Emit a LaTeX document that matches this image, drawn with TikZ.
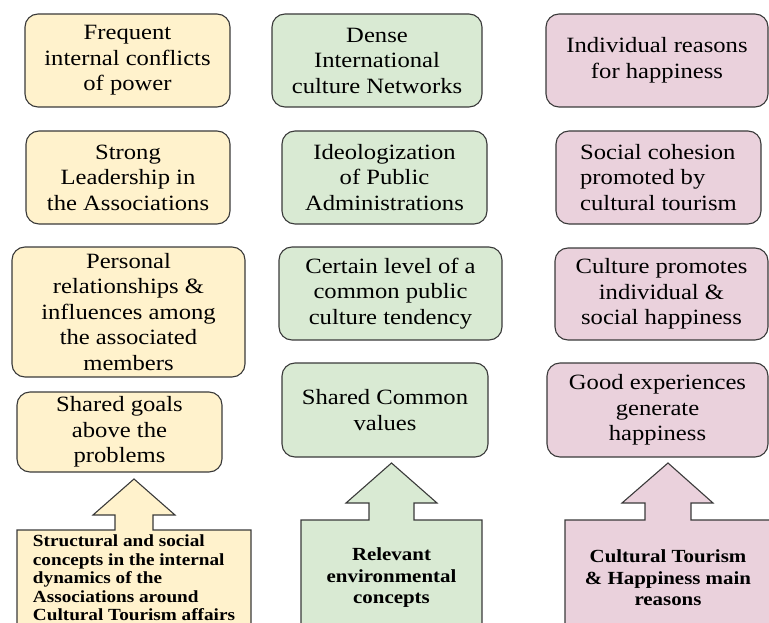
\documentclass[tikz,border=0pt]{standalone}
\usepackage{fontspec}
\setmainfont{Liberation Serif}[FakeStretch=1.13]
\usepackage{xcolor}
\definecolor{assocc}{HTML}{FFF2CC}
\definecolor{envc}{HTML}{D9EAD3}
\definecolor{happyc}{HTML}{EAD1DC}
\definecolor{edgec}{HTML}{3A3A3A}
\tikzset{
  concept/.style={draw=edgec, line width=1.1pt, rounded corners=13pt, align=center, inner sep=2pt, font=\fontsize{21.8}{25.5}\selectfont},
  assoc/.style={concept, fill=assocc},
  env/.style={concept, fill=envc},
  happy/.style={concept, fill=happyc},
  bigarrow/.style={draw=edgec, line width=1.1pt, line join=miter},
  arrowtext/.style={align=center, inner sep=0pt, font=\bfseries\fontsize{18.5}{21.5}\selectfont},
}

\begin{document}
\begin{tikzpicture}[x=1pt, y=-1pt]
\useasboundingbox (0,0) rectangle (769,623);
\node[assoc, minimum width=205pt, minimum height=93pt] (conflicts) at (127.5,60.5) {Frequent\\internal conflicts\\of power};
\node[assoc, minimum width=204pt, minimum height=93pt] (leadership) at (128,177.5) {Strong\\Leadership in\\the Associations};
\node[assoc, minimum width=233pt, minimum height=130pt] (relations) at (128.5,312) {Personal\\relationships \&\\influences among\\the associated\\members};
\node[assoc, minimum width=205pt, minimum height=80pt] (goals) at (119.5,432) {Shared goals\\above the\\problems};

\node[env, minimum width=210pt, minimum height=93pt] (networks) at (377,60.5) {Dense\\International\\culture Networks};
\node[env, minimum width=205pt, minimum height=93pt] (ideology) at (384.5,177.5) {Ideologization\\of Public\\Administrations};
\node[env, minimum width=223pt, minimum height=93pt] (tendency) at (390.5,293.5) {Certain level of a\\common public\\culture tendency};
\node[env, minimum width=206pt, minimum height=94pt] (values) at (385,410) {Shared Common\\values};

\node[happy, minimum width=222pt, minimum height=93pt] (reasons) at (657,60.5) {Individual reasons\\for happiness};
\node[happy, minimum width=205pt, minimum height=93pt, align=left] (cohesion) at (658.5,177.5) {Social cohesion\\promoted by\\cultural tourism};
\node[happy, minimum width=213pt, minimum height=92pt] (promotes) at (661.5,294) {Culture promotes\\individual \&\\social happiness};
\node[happy, minimum width=221pt, minimum height=94pt] (experiences) at (657.5,410) {Good experiences\\generate\\happiness};

\draw[bigarrow, fill=assocc] (17,623) -- (17,530) -- (115,530) -- (115,515) -- (93,515) -- (134,479) -- (175,515) -- (153,515) -- (153,530) -- (251,530) -- (251,623);
\draw[bigarrow, fill=envc] (301,623) -- (301,520) -- (369,520) -- (369,503) -- (346,503) -- (391.5,463) -- (437,503) -- (414,503) -- (414,520) -- (482,520) -- (482,623);
\fill[happyc] (565,623) -- (565,520) -- (645,520) -- (645,503) -- (622,503) -- (668,463) -- (713,503) -- (691,503) -- (691,520) -- (769,520) -- (769,623) -- cycle;
\draw[bigarrow] (565,623) -- (565,520) -- (645,520) -- (645,503) -- (622,503) -- (668,463) -- (713,503) -- (691,503) -- (691,520) -- (769,520);

\node[arrowtext, align=left, font=\bfseries\fontsize{17}{18.5}\selectfont] (internal) at (134,578) {Structural and social\\concepts in the internal\\dynamics of the\\Associations around\\Cultural Tourism affairs};
\node[arrowtext] (environment) at (391.5,578) {Relevant\\environmental\\concepts};
\node[arrowtext] (mainreasons) at (668,578) {Cultural Tourism\\\& Happiness main\\reasons};
\end{tikzpicture}
\end{document}
